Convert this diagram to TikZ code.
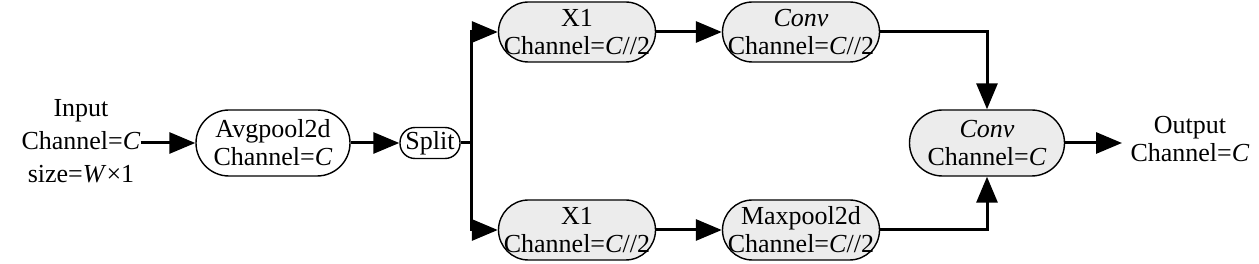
\documentclass[tikz,border=0pt]{standalone}
\usepackage{fontspec}
\setmainfont{Liberation Serif}
\usetikzlibrary{arrows.meta}
\definecolor{boxgray}{RGB}{236,236,236}
\begin{document}
\begin{tikzpicture}[x=1pt,y=-1pt,
  every node/.style={font=\fontsize{26}{28}\selectfont, align=center, inner sep=0pt},
  pill/.style={draw, line width=1.4pt, fill=boxgray, rounded corners=30pt, minimum width=157pt, minimum height=60pt},
  pillw/.style={draw, line width=1.4pt, fill=white, rounded corners=33pt, minimum width=154pt, minimum height=66pt},
  conn/.style={line width=3pt, -{Triangle[length=26pt,width=21pt]}},
  wire/.style={line width=3pt}
]
\useasboundingbox (0,0) rectangle (1259,264);
\node[font=\fontsize{26}{33}\selectfont] (in) at (81,141) {Input\\Channel=\textit{C}\\size=\textit{W}×1};
\node[pillw] (avg) at (273,143) {Avgpool2d\\Channel=\textit{C}};
\node[draw, line width=1.4pt, fill=white, rounded corners=15pt, minimum width=60pt, minimum height=31pt] (split) at (430,143) {Split};
\coordinate (br) at (471,143);
\node[pill] (x1t) at (577,32) {X1\\Channel=\textit{C}//2};
\node[pill] (convt) at (801,32) {\textit{Conv}\\Channel=\textit{C}//2};
\node[pill] (x1b) at (577,230) {X1\\Channel=\textit{C}//2};
\node[pill] (maxp) at (801,230) {Maxpool2d\\Channel=\textit{C}//2};
\node[pill, minimum width=155pt, minimum height=66pt, rounded corners=33pt] (conv) at (987,143) {\textit{Conv}\\Channel=\textit{C}};
\coordinate (oe) at (1122,143);
\node (out) at (1190,139) {Output\\Channel=\textit{C}};

\draw[conn] (in.east |- avg) -- (avg.west);
\draw[conn] (avg.east) -- (split.west);
\draw[wire] (split.east) -- (br);
\draw[conn] (br) |- (x1t.west);
\draw[conn] (br) |- (x1b.west);
\draw[conn] (x1t.east) -- (convt.west);
\draw[conn] (x1b.east) -- (maxp.west);
\draw[conn] (convt.east) -| (conv.north);
\draw[conn] (maxp.east) -| (conv.south);
\draw[conn] (conv.east) -- (oe);
\end{tikzpicture}
\end{document}
